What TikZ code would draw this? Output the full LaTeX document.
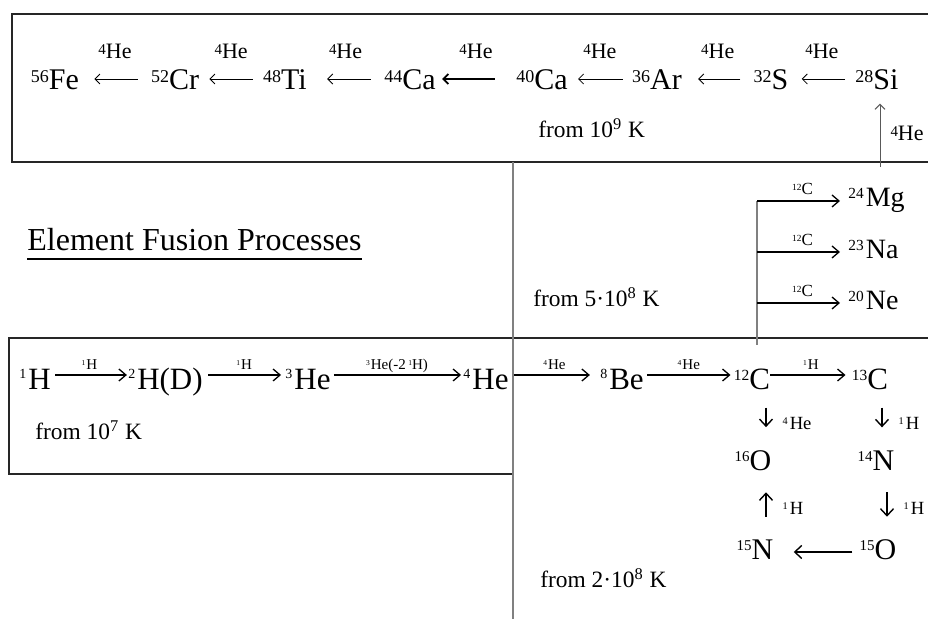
\documentclass[tikz,border=0pt]{standalone}
\usepackage{fontspec}
\setmainfont{Liberation Serif}
\usepackage{graphicx}
\usetikzlibrary{arrows.meta, calc}
% mass number as a scaled superscript, top level with the capitals
\newcommand{\nuc}[3][0.6]{\raisebox{\dimexpr0.66em-#1\dimexpr0.676em\relax\relax}{\scalebox{#1}{#2}}#3}

\begin{document}
\begin{tikzpicture}[x=0.5pt, y=-0.5pt,
    elem/.style={inner sep=0pt, anchor=base, font=\fontsize{15}{18}\selectfont},
    elemchain/.style={inner sep=0pt, anchor=base, font=\fontsize{15.5}{18}\selectfont},
    elemmid/.style={inner sep=0pt, anchor=base west, font=\fontsize{14}{17}\selectfont},
    elemcno/.style={inner sep=0pt, anchor=base, font=\fontsize{15}{18}\selectfont},
    toplab/.style={inner sep=0pt, font=\fontsize{11}{13}\selectfont},
    midlab/.style={inner sep=0pt, font=\fontsize{8.5}{10}\selectfont},
    chainlab/.style={inner sep=0pt, font=\fontsize{7.5}{9}\selectfont},
    cnolab/.style={inner sep=0pt, font=\fontsize{9.3}{11}\selectfont},
    temp/.style={inner sep=0pt, anchor=base west, font=\fontsize{11.7}{14}\selectfont},
    boxline/.style={draw=black!85, line width=0.6pt},
    sepline/.style={draw=gray, line width=0.65pt},
    toparrow/.style={-{Straight Barb[length=2.5pt, width=5pt]}},
    chainarrow/.style={line width=0.65pt, -{Straight Barb[length=3.5pt, width=6pt]}},
    cnoarrow/.style={line width=0.7pt, -{Straight Barb[length=3.5pt, width=6.5pt]}}
]
\path[use as bounding box, fill=white] (0,0) rectangle (928,619);

% Frames
\draw[boxline] (928,14) -- (12,14) -- (12,162) -- (928,162);
\draw[boxline] (928,338) -- (9,338) -- (9,474) -- (513,474) -- (513,338);
\draw[sepline] (513,162) -- (513,619);

% Silicon burning
\node[elem] (fe) at (55,90) {\nuc{56}{Fe}};
\node[elem] (cr) at (175,90) {\nuc{52}{Cr}};
\node[elem] (ti) at (285,90) {\nuc{48}{Ti}};
\node[elem] (ca44) at (410,90) {\nuc{44}{Ca}};
\node[elem] (ca40) at (542,90) {\nuc{40}{Ca}};
\node[elem] (ar) at (657,90) {\nuc{36}{Ar}};
\node[elem] (s32) at (771,90) {\nuc{32}{S}};
\node[elem] (si) at (877,90) {\nuc{28}{Si}};
\foreach \a/\b/\sa/\sb/\w in {cr/fe/6.5/7.5/0.4, ti/cr/5/5/0.4, ca44/ti/6.5/10/0.4, ca40/ca44/10.5/3/0.9, ar/ca40/4.5/5/0.4, s32/ar/6.5/8/0.4, si/s32/5/6.5/0.4}
  \draw[toparrow, line width=\w pt, shorten <=\sa pt, shorten >=\sb pt] ([yshift=5.5pt]\a.base west) -- ([yshift=5.5pt]\b.base east)
    node[toplab, midway, anchor=base, yshift=10pt] {\nuc[0.68]{4}{He}};
\node[temp] (t9) at (538,138) {from 10\textsuperscript{9} K};
\coordinate (sifeed) at (880,167);
\draw[toparrow, draw=black!65, line width=0.5pt, shorten >=6.5pt] (sifeed) -- (sifeed |- si.south)
  node[toplab, pos=0.44, anchor=west, xshift=5pt] {\nuc[0.68]{4}{He}};

% Title
\node[inner sep=0pt, anchor=base west, font=\fontsize{16}{19}\selectfont] (title) at (27,251) {Element Fusion Processes};
\draw[line width=1pt] ([yshift=-4pt]title.base west) -- ([yshift=-4pt]title.base east);

% Carbon burning
\node[elemmid] (mg) at (848,207) {\nuc[0.55]{24}{\kern1pt Mg}};
\node[elemmid] (na) at (848,259) {\nuc[0.55]{23}{\kern1pt Na}};
\node[elemmid] (ne) at (848,310) {\nuc[0.55]{20}{\kern1pt Ne}};
\coordinate (fork) at (757,345);
\coordinate (forkmg) at (757,201);
\coordinate (forkna) at (757,252);
\coordinate (forkne) at (757,303);
\draw[sepline] (fork) -- (forkmg);
\foreach \f/\t in {forkmg/mg, forkna/na, forkne/ne}
  \draw[chainarrow, shorten >=4pt] (\f) -- (\f -| \t.west)
    node[midlab, midway, anchor=base, yshift=3pt] {\nuc[0.55]{12}{C}};
\node[temp] (t58) at (533,307) {from 5\textperiodcentered 10\textsuperscript{8} K};

% Hydrogen and helium burning
\node[elemchain] (h1) at (35,390) {\nuc[0.45]{1}{\kern1pt H}};
\node[elemchain] (h2) at (165.5,390) {\nuc[0.45]{2}{\kern1pt H(D)}};
\node[elemchain] (he3) at (308,390) {\nuc[0.45]{3}{\kern1pt He}};
\node[elemchain] (he4) at (486,390) {\nuc[0.45]{4}{\kern1pt He}};
\node[elemchain] (be8) at (622,390) {\nuc[0.45]{8}{\kern1pt Be}};
\node[elemchain] (c12) at (752,390) {\nuc[0.5]{12}{C}};
\node[elemchain] (c13) at (870,390) {\nuc[0.5]{13}{C}};
\foreach \a/\b/\sa/\sb/\lab in {h1/h2/2/0.5/{\nuc[0.5]{1}{\kern0.5pt H}}, h2/he3/2.5/2/{\nuc[0.5]{1}{\kern0.5pt H}}, he3/he4/1.5/1/{\nuc[0.5]{3}{\kern0.5pt He(-2\,\nuc[0.5]{1}{H})}}, he4/be8/2.5/5/{\nuc[0.5]{4}{\kern0.5pt He}}, be8/c12/1.5/1.5/{\nuc[0.5]{4}{\kern0.5pt He}}, c12/c13/0/3/{\nuc[0.5]{1}{\kern0.5pt H}}}
  \draw[chainarrow, shorten <=\sa pt, shorten >=\sb pt] ([yshift=7.5pt]\a.base east) -- ([yshift=7.5pt]\b.base west)
    node[chainlab, midway, anchor=base, yshift=2.5pt] {\lab};
\node[temp] (t7) at (35,440) {from 10\textsuperscript{7} K};

% CNO cycle
\node[elemcno] (o16) at (753,471) {\nuc[0.5]{16}{O}};
\node[elemcno] (n14) at (876,471) {\nuc[0.5]{14}{N}};
\node[elemcno] (n15) at (755,560) {\nuc[0.5]{15}{N}};
\node[elemcno] (o15) at (878,560) {\nuc[0.5]{15}{O}};
\coordinate (cnoa) at ([xshift=7pt]c12.south);
\coordinate (cnob) at ([xshift=6pt]c13.south);
\coordinate (cnoc) at ([xshift=5.5pt]n15.north);
\coordinate (cnod) at ([xshift=5.5pt]n14.south);
\draw[cnoarrow, shorten <=8.5pt, shorten >=11.8pt] (cnoa) -- (cnoa |- o16.north)
  node[cnolab, midway, anchor=west, xshift=8pt, yshift=-1.5pt] {\nuc[0.55]{4}{\kern1pt He}};
\draw[cnoarrow, shorten <=8.5pt, shorten >=11.8pt] (cnob) -- (cnob |- n14.north)
  node[cnolab, midway, anchor=west, xshift=8pt, yshift=-1.5pt] {\nuc[0.55]{1}{\kern1pt H}};
\draw[cnoarrow, shorten <=11.5pt, shorten >=10.3pt] (cnoc) -- (cnoc |- o16.south)
  node[cnolab, midway, anchor=west, xshift=8pt, yshift=-1.5pt] {\nuc[0.55]{1}{\kern1pt H}};
\draw[cnoarrow, shorten <=10.5pt, shorten >=11.5pt] (cnod) -- (cnod |- o15.north)
  node[cnolab, midway, anchor=west, xshift=8pt, yshift=-1.5pt] {\nuc[0.55]{1}{\kern1pt H}};
\draw[cnoarrow, shorten <=3.5pt, shorten >=10pt] ([yshift=4pt]o15.base west) -- ([yshift=4pt]n15.base east);
\node[temp] (t28) at (540,588) {from 2\textperiodcentered 10\textsuperscript{8} K};

\end{tikzpicture}
\end{document}
